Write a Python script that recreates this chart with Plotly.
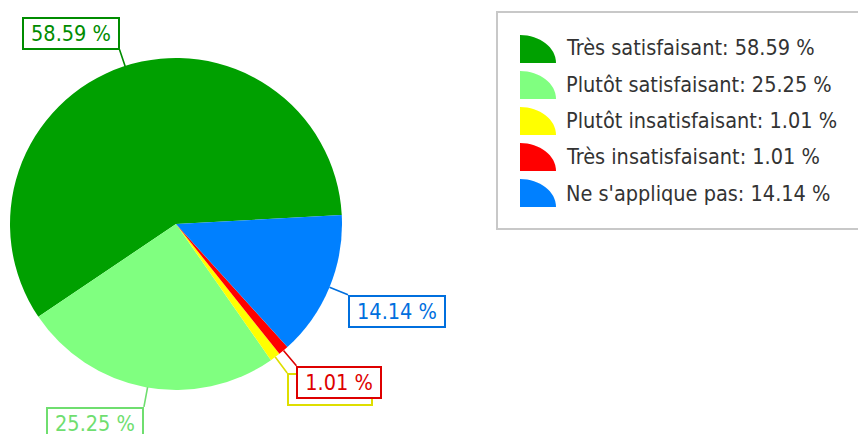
import math
import plotly.graph_objects as go

# ---- data ----
labels = ["Très satisfaisant", "Plutôt satisfaisant", "Plutôt insatisfaisant",
          "Très insatisfaisant", "Ne s'applique pas"]
values = [58.59, 25.25, 1.01, 1.01, 14.14]
colors = ["#00A000", "#80FF80", "#FFFF00", "#FF0000", "#0080FF"]
label_colors = ["#008C00", "#6FDE6F", "#DEDE00", "#DE0000", "#006FDE"]

# ---- layout constants (pixels) ----
W, H = 858, 434
CX, CY, R = 176, 224, 166
ROT = 236.0
FONT = "DejaVu Sans Condensed, DejaVu Sans, sans-serif"
FS = 21.5


def px(x):
    return x / W


def py(y):
    return 1 - y / H


fig = go.Figure(go.Pie(
    labels=labels, values=values, sort=False, direction="counterclockwise",
    rotation=ROT, marker=dict(colors=colors, line=dict(width=0)),
    textinfo="none", showlegend=False, hoverinfo="label+percent",
    domain=dict(x=[px(CX - R), px(CX + R)], y=[py(CY + R), py(CY - R)]),
))

# ---- slice labels with leader lines ----
total = sum(values)
angs = [360 * v / total for v in values]
mids = [ROT + angs[0] / 2]
acc = ROT
for a in angs[1:]:
    mids.append(acc - a / 2)
    acc -= a

annotations = []
for i, (v, th) in enumerate(zip(values, mids)):
    t = math.radians(th)
    s, c = math.sin(t), -math.cos(t)
    ex, ey = CX + R * s, CY + R * c
    txt = f"{v:.2f} %"
    L = 18 if c < 0 else 20
    annotations.append(dict(
        x=px(ex), y=py(ey), xref="paper", yref="paper",
        ax=L * s, ay=L * c, axref="pixel", ayref="pixel",
        showarrow=True, arrowhead=0, arrowwidth=1.6, arrowcolor=label_colors[i],
        text=txt, font=dict(family=FONT, size=FS, color=label_colors[i]),
        bgcolor="white", bordercolor=label_colors[i], borderwidth=2, borderpad=2,
        width=12 * len(txt) + 6, height=25,
        xanchor="left" if s > 0 else "right",
        yanchor="top" if c > 0 else "bottom",
        xshift=0 if s > 0 else 2,
    ))

# ---- custom legend ----
shapes = [dict(type="rect", xref="paper", yref="paper",
               x0=px(497), x1=px(880), y0=py(12), y1=py(229),
               line=dict(color="#C8C8C8", width=2), fillcolor="white", layer="below")]
k = 0.5523
for i, lab in enumerate(labels):
    x0, yb = 520, 63 + 36 * i
    rx, ry = 36, 28
    path = (f"M {px(x0)},{py(yb)} L {px(x0)},{py(yb - ry)} "
            f"C {px(x0 + k * rx)},{py(yb - ry)} {px(x0 + rx)},{py(yb - k * ry)} "
            f"{px(x0 + rx)},{py(yb)} Z")
    shapes.append(dict(type="path", xref="paper", yref="paper", path=path,
                       fillcolor=colors[i], line=dict(width=0)))
    annotations.append(dict(
        x=px(564), y=py(48 + 36.3 * i), xref="paper", yref="paper",
        xanchor="left", yanchor="middle", showarrow=False,
        text=f"{lab}: {values[i]:.2f} %",
        font=dict(family=FONT, size=FS, color="#333333"),
    ))

fig.update_layout(
    width=W, height=H, margin=dict(l=0, r=0, t=0, b=0),
    paper_bgcolor="white", plot_bgcolor="white",
    shapes=shapes, annotations=annotations,
)
fig.write_html("out.html", config={"displayModeBar": False},
               post_script="document.body.style.margin='0px';"
                           "document.body.style.overflow='hidden';")
